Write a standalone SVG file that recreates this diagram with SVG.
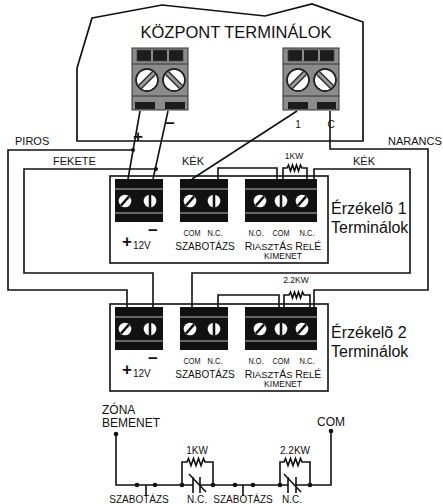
<svg xmlns="http://www.w3.org/2000/svg" width="443" height="504" viewBox="0 0 443 504">
<defs>
<style>
text{font-family:"Liberation Sans",Arial,sans-serif;fill:#111}
.w{fill:none;stroke:#111;stroke-width:1.6;stroke-linejoin:miter}
.board{fill:none;stroke:#111;stroke-width:1.6}
.gblk{fill:#8c8c8c;stroke:#333;stroke-width:1}
.gdark{fill:#1c1c1c}
.gscrew{fill:#fff;stroke:#222;stroke-width:1.4}
.slotO{stroke:#222;stroke-width:5.5;stroke-linecap:butt}
.slotI{stroke:#9a9a9a;stroke-width:3;stroke-linecap:butt}
.bblk{fill:#111}
.bline{stroke:#bbb;stroke-width:1}
.bscrew{fill:#fff}
.bslot{stroke:#111;stroke-width:2.6}
.dot{fill:#111}
.lbl{font-size:11px}
.small{font-size:9.5px}
</style>
</defs>

<!-- Central panel -->
<g id="kozpont">
  <polygon points="92,18 162,5 265,16 312,4 363,22 363,141 77,141 77,68" fill="#fff" stroke="#111" stroke-width="1.7"/>
  <text x="236" y="38" font-size="16.5" text-anchor="middle">KÖZPONT TERMINÁLOK</text>
  <g id="kozpont-blokk1" transform="translate(132,48)">
    <rect class="gblk" x="0" y="0" width="56" height="62"/>
    <rect class="gdark" x="5" y="2" width="46" height="11" stroke="#444" stroke-width="0.8"/>
    <line x1="20" y1="2" x2="20" y2="13" stroke="#8c8c8c" stroke-width="2"/>
    <line x1="36" y1="2" x2="36" y2="13" stroke="#8c8c8c" stroke-width="2"/>
    <line x1="0" y1="16" x2="56" y2="16" stroke="#333" stroke-width="1"/>
    <circle class="gscrew" cx="15" cy="32" r="11"/>
    <line class="slotO" x1="8" y1="39" x2="22" y2="25"/><line class="slotI" x1="8" y1="39" x2="22" y2="25"/>
    <circle class="gscrew" cx="42" cy="32" r="11"/>
    <line class="slotO" x1="35" y1="25" x2="49" y2="39"/><line class="slotI" x1="35" y1="25" x2="49" y2="39"/>
    <circle cx="15" cy="32" r="11" fill="none" stroke="#222" stroke-width="1.4"/>
    <circle cx="42" cy="32" r="11" fill="none" stroke="#222" stroke-width="1.4"/>
    <line x1="0" y1="48" x2="56" y2="48" stroke="#333" stroke-width="1"/>
    <rect class="gdark" x="3" y="54" width="20" height="7"/>
    <rect class="gdark" x="33" y="54" width="20" height="7"/>
  </g>
  <g id="kozpont-blokk2" transform="translate(283,48)">
    <rect class="gblk" x="0" y="0" width="56" height="62"/>
    <rect class="gdark" x="5" y="2" width="46" height="11" stroke="#444" stroke-width="0.8"/>
    <line x1="20" y1="2" x2="20" y2="13" stroke="#8c8c8c" stroke-width="2"/>
    <line x1="36" y1="2" x2="36" y2="13" stroke="#8c8c8c" stroke-width="2"/>
    <line x1="0" y1="16" x2="56" y2="16" stroke="#333" stroke-width="1"/>
    <circle class="gscrew" cx="15" cy="32" r="11"/>
    <line class="slotO" x1="8" y1="39" x2="22" y2="25"/><line class="slotI" x1="8" y1="39" x2="22" y2="25"/>
    <circle class="gscrew" cx="42" cy="32" r="11"/>
    <line class="slotO" x1="35" y1="25" x2="49" y2="39"/><line class="slotI" x1="35" y1="25" x2="49" y2="39"/>
    <circle cx="15" cy="32" r="11" fill="none" stroke="#222" stroke-width="1.4"/>
    <circle cx="42" cy="32" r="11" fill="none" stroke="#222" stroke-width="1.4"/>
    <line x1="0" y1="48" x2="56" y2="48" stroke="#333" stroke-width="1"/>
    <rect class="gdark" x="5" y="54" width="20" height="7"/>
    <rect class="gdark" x="34" y="54" width="19" height="7"/>
  </g>
  <text x="138" y="142" font-size="17" font-weight="bold" text-anchor="middle">+</text>
  <text x="170" y="129" font-size="17" font-weight="bold" text-anchor="middle">−</text>
  <text x="298" y="128" font-size="10" text-anchor="middle">1</text>
  <text x="331" y="128" font-size="10" text-anchor="middle">C</text>
</g>

<!-- Wire labels -->
<g id="wire-labels" class="lbl">
  <text x="15" y="145">PIROS</text>
  <text x="388" y="145">NARANCS</text>
  <text x="53" y="165">FEKETE</text>
  <text x="182" y="165">KÉK</text>
  <text x="353" y="165">KÉK</text>
</g>

<!-- Sensor 1 -->
<g id="erzekelo1">
  <rect class="board" x="110" y="176" width="218" height="87"/>
  <g transform="translate(115,179)">
    <rect class="bblk" width="48" height="43"/>
    <line class="bline" x1="0" y1="10" x2="48" y2="10"/><line class="bline" x1="0" y1="34" x2="48" y2="34"/>
    <circle class="bscrew" cx="10" cy="22" r="6.3"/><line class="bslot" x1="6" y1="26.5" x2="14" y2="17.5"/>
    <circle class="bscrew" cx="35" cy="22" r="6.3"/><line class="bslot" x1="35" y1="15.5" x2="35" y2="28.5"/>
  </g>
  <g transform="translate(180,179)">
    <rect class="bblk" width="48" height="43"/>
    <line class="bline" x1="0" y1="10" x2="48" y2="10"/><line class="bline" x1="0" y1="34" x2="48" y2="34"/>
    <circle class="bscrew" cx="10" cy="22" r="6.3"/><line class="bslot" x1="6" y1="26.5" x2="14" y2="17.5"/>
    <circle class="bscrew" cx="34" cy="22" r="6.3"/><line class="bslot" x1="34" y1="15.5" x2="34" y2="28.5"/>
  </g>
  <g transform="translate(245,179)">
    <rect class="bblk" width="72" height="43"/>
    <line class="bline" x1="0" y1="10" x2="72" y2="10"/><line class="bline" x1="0" y1="34" x2="72" y2="34"/>
    <circle class="bscrew" cx="15" cy="22" r="6.3"/><line class="bslot" x1="11" y1="26.5" x2="19" y2="17.5"/>
    <circle class="bscrew" cx="36" cy="22" r="6.3"/><line class="bslot" x1="36" y1="15.5" x2="36" y2="28.5"/>
    <circle class="bscrew" cx="57" cy="22" r="6.3"/><line class="bslot" x1="53" y1="26.5" x2="61" y2="17.5"/>
  </g>
  <text x="153" y="236" font-size="17" font-weight="bold" text-anchor="middle">−</text>
  <text x="127" y="247" font-size="17" font-weight="bold" text-anchor="middle">+</text>
  <text x="133" y="249" font-size="10">12V</text>
  <g class="small" text-anchor="middle">
    <text x="192" y="236" textLength="17" lengthAdjust="spacingAndGlyphs">COM</text><text x="215" y="236" textLength="15" lengthAdjust="spacingAndGlyphs">N.C.</text>
    <text x="256" y="236" textLength="15" lengthAdjust="spacingAndGlyphs">N.O.</text><text x="281" y="236" textLength="17" lengthAdjust="spacingAndGlyphs">COM</text><text x="307" y="236" textLength="15" lengthAdjust="spacingAndGlyphs">N.C.</text>
  </g>
  <text x="205" y="250" font-size="10" text-anchor="middle">SZABOTÁZS</text>
  <text x="283" y="250" text-anchor="middle" font-size="9.5"><tspan font-size="10.5">R</tspan>IASZT<tspan font-size="10.5">Á</tspan>S <tspan font-size="10.5">R</tspan>EL<tspan font-size="10.5">É</tspan></text>
  <text x="283" y="259" font-size="8.5" text-anchor="middle">KIMENET</text>
  <text x="331" y="214" font-size="16">Érzékelõ 1</text>
  <text x="331" y="233" font-size="16">Terminálok</text>
  <text x="294" y="159" font-size="8.5" text-anchor="middle">1KW</text>
</g>

<!-- Sensor 2 -->
<g id="erzekelo2" transform="translate(0,128)">
  <rect class="board" x="110" y="176" width="218" height="87"/>
  <g transform="translate(115,179)">
    <rect class="bblk" width="48" height="43"/>
    <line class="bline" x1="0" y1="10" x2="48" y2="10"/><line class="bline" x1="0" y1="34" x2="48" y2="34"/>
    <circle class="bscrew" cx="10" cy="22" r="6.3"/><line class="bslot" x1="6" y1="26.5" x2="14" y2="17.5"/>
    <circle class="bscrew" cx="35" cy="22" r="6.3"/><line class="bslot" x1="35" y1="15.5" x2="35" y2="28.5"/>
  </g>
  <g transform="translate(180,179)">
    <rect class="bblk" width="48" height="43"/>
    <line class="bline" x1="0" y1="10" x2="48" y2="10"/><line class="bline" x1="0" y1="34" x2="48" y2="34"/>
    <circle class="bscrew" cx="10" cy="22" r="6.3"/><line class="bslot" x1="6" y1="26.5" x2="14" y2="17.5"/>
    <circle class="bscrew" cx="34" cy="22" r="6.3"/><line class="bslot" x1="34" y1="15.5" x2="34" y2="28.5"/>
  </g>
  <g transform="translate(245,179)">
    <rect class="bblk" width="72" height="43"/>
    <line class="bline" x1="0" y1="10" x2="72" y2="10"/><line class="bline" x1="0" y1="34" x2="72" y2="34"/>
    <circle class="bscrew" cx="15" cy="22" r="6.3"/><line class="bslot" x1="11" y1="26.5" x2="19" y2="17.5"/>
    <circle class="bscrew" cx="36" cy="22" r="6.3"/><line class="bslot" x1="36" y1="15.5" x2="36" y2="28.5"/>
    <circle class="bscrew" cx="57" cy="22" r="6.3"/><line class="bslot" x1="53" y1="26.5" x2="61" y2="17.5"/>
  </g>
  <text x="153" y="236" font-size="17" font-weight="bold" text-anchor="middle">−</text>
  <text x="127" y="247" font-size="17" font-weight="bold" text-anchor="middle">+</text>
  <text x="133" y="249" font-size="10">12V</text>
  <g class="small" text-anchor="middle">
    <text x="192" y="236" textLength="17" lengthAdjust="spacingAndGlyphs">COM</text><text x="215" y="236" textLength="15" lengthAdjust="spacingAndGlyphs">N.C.</text>
    <text x="256" y="236" textLength="15" lengthAdjust="spacingAndGlyphs">N.O.</text><text x="281" y="236" textLength="17" lengthAdjust="spacingAndGlyphs">COM</text><text x="307" y="236" textLength="15" lengthAdjust="spacingAndGlyphs">N.C.</text>
  </g>
  <text x="205" y="250" font-size="10" text-anchor="middle">SZABOTÁZS</text>
  <text x="283" y="250" text-anchor="middle" font-size="9.5"><tspan font-size="10.5">R</tspan>IASZT<tspan font-size="10.5">Á</tspan>S <tspan font-size="10.5">R</tspan>EL<tspan font-size="10.5">É</tspan></text>
  <text x="283" y="259" font-size="8.5" text-anchor="middle">KIMENET</text>
  <text x="331" y="210" font-size="16">Érzékelõ 2</text>
  <text x="331" y="229" font-size="16">Terminálok</text>
  <text x="296" y="155" font-size="8.5" text-anchor="middle">2.2KW</text>
</g>

<!-- Connectors -->
<g id="connectors">
  <!-- PIROS -->
  <path class="w" d="M140,111 L128,179"/>
  <path class="w" d="M133,150 H8 V290 H127 V307"/>
  <!-- FEKETE -->
  <path class="w" d="M168,111 L153,179"/>
  <path class="w" d="M156,169 H24 V273 H153 V307"/>
  <!-- KÉK 1 -->
  <path class="w" d="M297,111 L192,179"/>
  <!-- NARANCS -->
  <path class="w" d="M330,111 V149 H428 V290 H314 V307"/>
  <!-- KÉK 2 -->
  <path class="w" d="M314,179 V169 H410 V273 H192 V307"/>
  <!-- sensor 1 internal -->
  <path class="w" d="M218,179 V168 H277 V179"/>
  <path class="w" d="M283,179 V168 H287 l1.5,-3 l2,6 l2,-6 l2,6 l2,-6 l2,6 l2,-6 l1.5,3 H307 V179"/>
  <!-- sensor 2 internal -->
  <path class="w" d="M218,307 V295 H279 V307"/>
  <path class="w" d="M284,307 V295 H289 l1.5,-3 l2,6 l2,-6 l2,6 l2,-6 l2,6 l2,-6 l1.5,3 H310 V307"/>
  <circle class="dot" cx="133" cy="150" r="2"/>
  <circle class="dot" cx="156" cy="169" r="2"/>
</g>

<!-- Zone circuit schematic -->
<g id="zona-kor">
  <text x="102" y="414" font-size="12">ZÓNA</text>
  <text x="102" y="427" font-size="12">BEMENET</text>
  <text x="317" y="426" font-size="12">COM</text>
  <path class="w" d="M116,434 V485 H193 M200,485 H288 M296,485 H331 V431"/>
  <path class="w" d="M193,477 V493 M200,477 V493 M189,474 L206,492"/>
  <path class="w" d="M288,477 V493 M296,477 V493 M284,474 L301,492"/>
  <path class="w" d="M182,485 V462 H187 l1.5,-3.5 l2.5,7 l2.5,-7 l2.5,7 l2.5,-7 l2.5,7 l2.5,-7 l1.5,3.5 H213 V485"/>
  <path class="w" d="M280,485 V462 H284 l1.5,-3.5 l2.5,7 l2.5,-7 l2.5,7 l2.5,-7 l2.5,7 l2.5,-7 l1.5,3.5 H310 V485"/>
  <path class="w" d="M146,485 V496 M243,485 V496"/>
  <g class="dot">
    <circle cx="116" cy="434" r="2.3"/><circle cx="331" cy="431" r="2.3"/>
    <circle cx="137" cy="485" r="2.3"/><circle cx="155" cy="485" r="2.3"/>
    <circle cx="182" cy="485" r="2.3"/><circle cx="213" cy="485" r="2.3"/>
    <circle cx="235" cy="485" r="2.3"/><circle cx="253" cy="485" r="2.3"/>
    <circle cx="280" cy="485" r="2.3"/><circle cx="310" cy="485" r="2.3"/>
  </g>
  <text x="197" y="454" font-size="10" text-anchor="middle">1KW</text>
  <text x="295" y="454" font-size="10" text-anchor="middle">2.2KW</text>
  <text x="139" y="503" font-size="10" text-anchor="middle">SZABOTÁZS</text>
  <text x="197" y="503" font-size="10" text-anchor="middle">N.C.</text>
  <text x="243" y="503" font-size="10" text-anchor="middle">SZABOTÁZS</text>
  <text x="292" y="503" font-size="10" text-anchor="middle">N.C.</text>
</g>
</svg>
